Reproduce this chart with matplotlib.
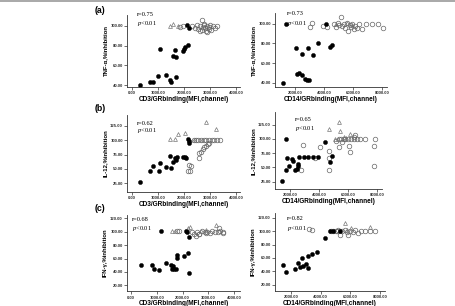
import numpy as np
import matplotlib
matplotlib.use("Agg")
import matplotlib.pyplot as plt
from matplotlib.lines import Line2D
from matplotlib.ticker import FormatStrFormatter

plt.rcParams['mathtext.fontset'] = 'custom'
plt.rcParams['mathtext.it'] = 'Liberation Serif:italic'
plt.rcParams['mathtext.rm'] = 'Liberation Serif'

#------------------------------------------------------------------#
# data: filled = black dots, oc = open circles,
# tri = open triangles
#------------------------------------------------------------------#
# (a) CD3 / TNF-a
a3_fx = [316, 700, 820, 1010, 1080, 1300, 1460, 1490, 1580, 1670, 1690, 1710, 1960, 1990, 2060, 2150, 2130, 2200]
a3_fy = [40.5, 43.5, 43.5, 49.5, 76.5, 50.5, 45.5, 43.5, 69.5, 75.5, 48.0, 68.5, 75.0, 76.5, 79.0, 80.5, 101.0, 97.5]
a3_ox = [1860, 1960, 2330, 2420, 2500, 2560, 2620, 2680, 2720, 2780, 2820, 2850, 2900, 2950, 2980, 3050, 3100, 3180, 3280, 2700, 2600, 2880, 2760, 3000]
a3_oy = [99, 100, 100, 98, 101, 97, 100, 96, 99, 102, 98, 95, 100, 97, 99, 96, 100, 98, 100, 106, 95, 94, 101, 101]
a3_tx = [1460, 1600, 1760]
a3_ty = [99.5, 101.5, 100]

# (a) CD14 / TNF-a
a14_fx = [1200, 1380, 2070, 2110, 2300, 2460, 2500, 2690, 2800, 2920, 2960, 3260, 3600, 4400, 4520, 4130]
a14_fy = [40, 100, 75, 49, 50, 69, 48, 43.5, 42.5, 75, 42.5, 68, 80, 76, 78, 100]
a14_ox = [3030, 3140, 3950, 4170, 4700, 4850, 4950, 5050, 5150, 5250, 5350, 5450, 5550, 5650, 5750, 5850, 5950, 6050, 6150, 6250, 6400, 6600, 6900, 7300, 7700, 8050]
a14_oy = [96.5, 100.5, 98, 96.5, 100, 97, 101, 99, 106.5, 98, 100, 96, 101, 93, 99, 97, 100, 95, 98, 96, 100, 95, 100, 100, 100, 96]
a14_tx = [4850, 5600, 5900]
a14_ty = [100, 101, 99]

# (b) CD3 / IL-12
b3_fx = [316, 720, 820, 1050, 1100, 1300, 1460, 1490, 1580, 1650, 1710, 1730, 1960, 2030, 2090, 2150, 2180, 2190]
b3_fy = [26.5, 47, 56, 46.5, 60, 54, 72.5, 51, 63, 68.5, 65.5, 70, 70, 70.5, 68.5, 101.5, 95, 98]
b3_ox = [2150, 2240, 2280, 2215, 2595, 2595, 2658, 2722, 2785, 2848, 2911, 2460, 2560, 2660, 2760, 2860, 2960, 3060, 3160, 3260, 3380, 2400, 2980]
b3_oy = [46.5, 46.5, 55, 57, 68.5, 77, 80, 84, 88, 90, 93.5, 100, 100, 100, 100, 100, 100, 100, 100, 100, 100, 101, 96]
b3_tx = [1480, 1650, 1770, 2060, 2850, 3230, 2400, 2700]
b3_ty = [101.5, 102, 111, 113.5, 131, 119, 101, 101]

# (b) CD14 / IL-12
b14_fx = [1470, 1700, 1720, 1770, 1950, 2120, 2190, 2350, 2460, 2530, 2580, 2650, 2950, 3270, 3620, 3960, 4420, 4770, 4890]
b14_fy = [26, 100.5, 45, 67, 53, 64, 61, 45, 48, 52, 56, 68.5, 68.5, 68.5, 68.5, 68.5, 94, 60, 70]
b14_ox = [2740, 2880, 3730, 4080, 4700, 4725, 4725, 5350, 5580, 5700, 6040, 6160, 7770, 7820, 5350, 5500, 5800, 6000, 6200, 6400, 6600, 6800, 7200, 7890, 6390, 6500, 5200]
b14_oy = [45, 89, 67, 85, 45, 79, 67, 86, 95, 100, 88, 77, 88, 53, 100, 100, 100, 100, 100, 100, 100, 100, 100, 100, 103.5, 107.5, 97]
b14_tx = [4660, 5350, 5460, 5120, 5280, 6160, 5700, 5900]
b14_ty = [118, 130, 113, 100.5, 100.5, 109, 104, 101]

# (c) CD3 / IFN-g
c3_fx = [390, 800, 890, 1100, 1150, 1355, 1550, 1575, 1640, 1680, 1740, 1795, 1795, 2050, 2130, 2220, 2245, 2245, 2180]
c3_fy = [50, 50, 45, 43.5, 101, 53, 50, 45, 48.5, 45, 45, 61, 65, 63.5, 101, 68, 91.5, 38.5, 100]
c3_ox = [1800, 1870, 2350, 2450, 2550, 2650, 2750, 2850, 2950, 3050, 3150, 3250, 3350, 3450, 3550, 2500, 2620, 2900, 3420, 3560]
c3_oy = [100.5, 100.5, 100, 97, 100, 96, 101, 99, 100, 98, 101, 100, 99, 101, 98, 94, 96, 98, 105, 99]
c3_tx = [1575, 1700, 2220, 2300, 3290, 2700, 2900]
c3_ty = [101.5, 101.5, 105, 106.5, 110, 101, 102]

# (c) CD14 / IFN-g
c14_fx = [1450, 1660, 2300, 2480, 2640, 2710, 2820, 2980, 3140, 3140, 3440, 3780, 4280, 4650, 4810, 5270]
c14_fy = [50, 38.5, 44, 52, 47, 60.5, 48, 51, 45, 63, 65.5, 68.5, 90, 100.5, 100.5, 100.5]
c14_ox = [3210, 3440, 4700, 4850, 5000, 5150, 5330, 5450, 5600, 5750, 5840, 6000, 6150, 6300, 6520, 6700, 7000, 7300, 7660, 5100]
c14_oy = [102.5, 101.5, 100.5, 100.5, 100.5, 101, 94.5, 100, 101, 99, 94.5, 100, 98, 101, 96.5, 100, 100, 100, 100, 100]
c14_tx = [5600, 6060, 7320, 5800, 5200]
c14_ty = [111.5, 104, 106.5, 101, 100.5]

r_text = ["r=0.75", "r=0.73", "r=0.62", "r=0.65", "r=0.68", "r=0.82"]
ylabels = [u"TNF-\u03b1,%inhibition", u"IL-12,%inhibition", u"IFN-\u03b3,%inhibition"]
xlabels = ["CD3/GRbinding(MFI,channel)", "CD14/GRbinding(MFI,channel)"]

#------------------------------------------------------------------#
fig = plt.figure(figsize=(4.56, 3.06), dpi=100)
fig.add_artist(Line2D([0, 1], [0.997, 0.997], color='#9a9a9a', lw=1.2))

boxes = [[0.2785, 0.7157, 0.2478, 0.2353], [0.603, 0.7157, 0.2456, 0.2418],
         [0.2785, 0.3735, 0.2478, 0.2506], [0.603, 0.3814, 0.2346, 0.2526],
         [0.2785, 0.0478, 0.2478, 0.2496], [0.603, 0.0497, 0.2412, 0.2542]]
xlims = [(-180, 4150), (626, 8320), (-180, 4150), (960, 8350), (-155, 4220), (925, 8320)]
ylims = [(38, 111), (35.6, 111), (10.4, 144), (11.8, 147), (11, 125), (11, 127)]
yticks = [[40, 60, 80, 100], [40, 60, 80, 100], [25, 50, 75, 100, 125], [25, 50, 75, 100, 125],
          [20, 40, 60, 80, 100, 120], [20, 40, 60, 80, 100, 120]]
xticks = [[0, 1000, 2000, 3000, 4000], [2000, 4000, 6000, 8000]]
txt_pos = [(0.09, 1.0, 0.88), (0.107, 0.99, 0.86), (0.09, 0.89, 0.80),
           (0.187, 0.90, 0.79), (0.04, 0.935, 0.82), (0.106, 0.933, 0.806)]
data = [(a3_fx, a3_fy, a3_ox, a3_oy, a3_tx, a3_ty), (a14_fx, a14_fy, a14_ox, a14_oy, a14_tx, a14_ty),
        (b3_fx, b3_fy, b3_ox, b3_oy, b3_tx, b3_ty), (b14_fx, b14_fy, b14_ox, b14_oy, b14_tx, b14_ty),
        (c3_fx, c3_fy, c3_ox, c3_oy, c3_tx, c3_ty), (c14_fx, c14_fy, c14_ox, c14_oy, c14_tx, c14_ty)]

for i in range(6):
    ax = fig.add_axes(boxes[i])
    fx, fy, ox, oy, tx, ty = data[i]
    ax.plot(ox, oy, 'o', ms=3.3, mfc='none', mec='#666666', mew=0.5, ls='none')
    ax.plot(tx, ty, '^', ms=2.8, mfc='none', mec='#777777', mew=0.5, ls='none')
    ax.plot(fx, fy, 'o', ms=3.0, mfc='k', mec='k', mew=0.3, ls='none')
    ax.set_xlim(xlims[i]); ax.set_ylim(ylims[i])
    ax.set_xticks(xticks[i % 2]); ax.set_yticks(yticks[i])
    ax.xaxis.set_major_formatter(FormatStrFormatter('%.2f'))
    ax.yaxis.set_major_formatter(FormatStrFormatter('%.2f'))
    for s in ['top', 'right']:
        ax.spines[s].set_visible(False)
    for s in ['left', 'bottom']:
        ax.spines[s].set_linewidth(0.6); ax.spines[s].set_color('#333333')
    ax.tick_params(direction='out', length=2, width=0.5, pad=1.0, colors='#333333')
    for lab in ax.get_xticklabels() + ax.get_yticklabels():
        lab.set_fontsize(3.1); lab.set_fontweight('bold'); lab.set_family('Liberation Sans')
    ax.set_xlabel(xlabels[i % 2], fontsize=4.7, fontweight='bold', family='Liberation Sans', labelpad=0.6)
    ax.set_ylabel(ylabels[i // 2], fontsize=4.3, fontweight='bold', family='Liberation Sans', labelpad=1.5)
    px, py1, py2 = txt_pos[i]
    ax.text(px, py1, r_text[i], transform=ax.transAxes, fontsize=4.6, family='Liberation Serif', va='center')
    ax.text(px, py2, r"$p$<0.01", transform=ax.transAxes, fontsize=4.6, family='Liberation Serif', va='center')

for lab, y in zip(["(a)", "(b)", "(c)"], [0.967, 0.647, 0.320]):
    fig.text(0.208, y, lab, fontsize=6.3, fontweight='bold', family='Liberation Sans', va='center')

plt.savefig('out.png', dpi=100)
